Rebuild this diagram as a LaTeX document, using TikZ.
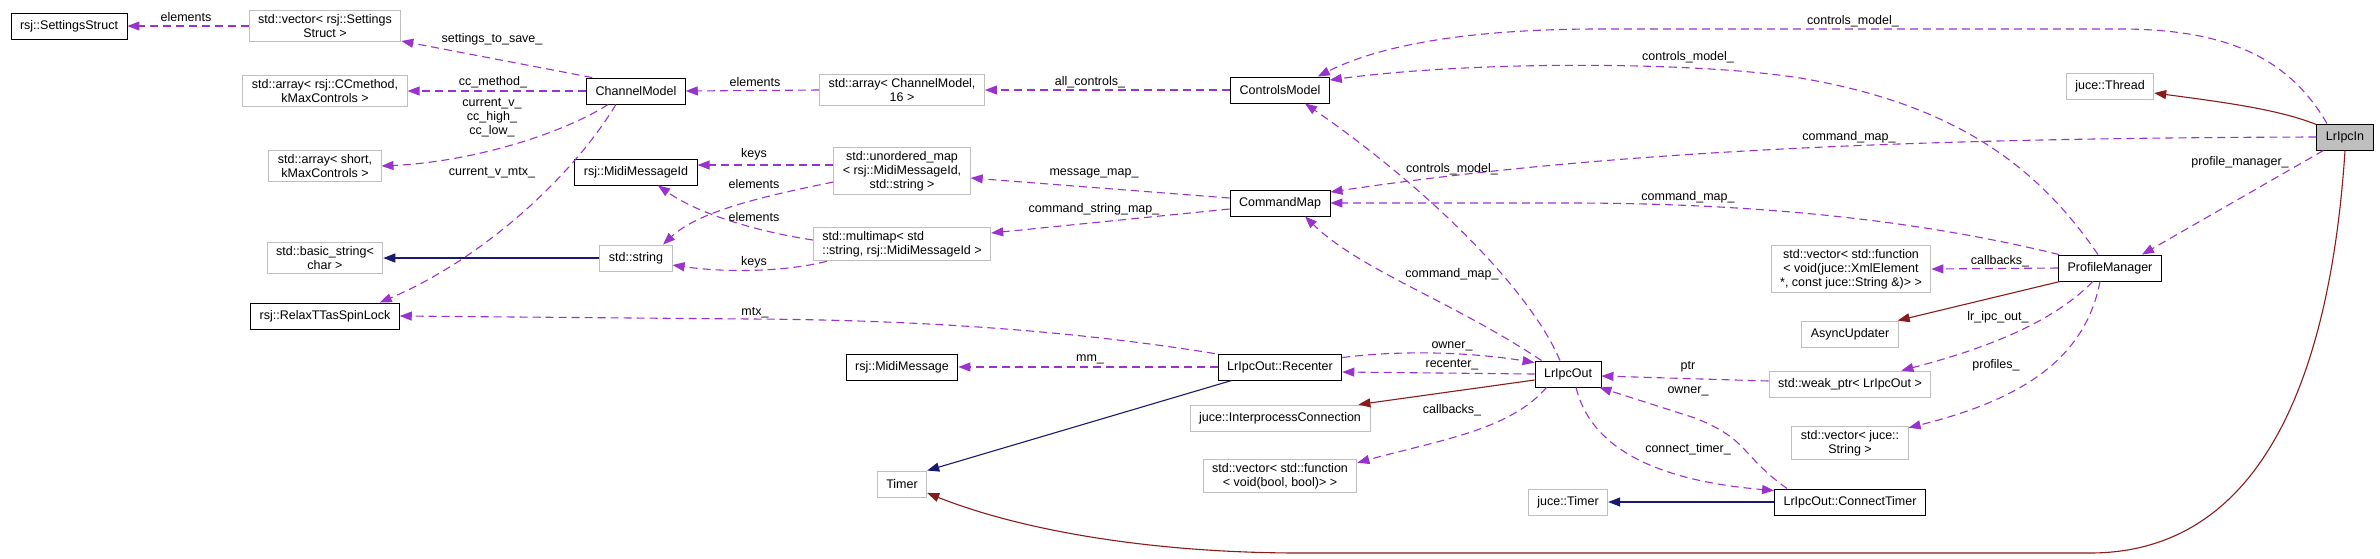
\documentclass[tikz,border=0pt]{standalone}
\usepackage{fontspec}
\setmainfont{Liberation Sans}
\definecolor{dxpurple}{RGB}{154,50,205}
\definecolor{dxnavy}  {RGB}{25,25,112}
\definecolor{dxred}   {RGB}{139,26,26}
\definecolor{dxgray}  {RGB}{191,191,191}
\usetikzlibrary{arrows.meta,calc}
\tikzset{
  cls/.style={rectangle,draw=black,line width=0.9pt,fill=white,
              minimum height=26pt,inner xsep=9pt,inner ysep=4pt,
              font=\fontsize{12.5}{14}\selectfont,align=center},
  ext/.style={cls,draw=dxgray},
  cur/.style={cls,fill=dxgray},
  mem/.style={-{Triangle[length=12pt,width=9pt]},dxpurple,line width=1.1pt,
              dash pattern=on 8pt off 5pt},
  pub/.style={-{Triangle[length=12pt,width=9pt]},dxnavy,line width=1.1pt},
  priv/.style={-{Triangle[length=12pt,width=9pt]},dxred,line width=1.1pt},
  lbl/.style={font=\fontsize{12.5}{14}\selectfont,inner sep=1pt,align=center},
}
\begin{document}
\begin{tikzpicture}[x=1pt,y=-1pt]
  \useasboundingbox (0,0) rectangle (2380,558);
  % classes
  \node[cls] (ss)   at (69,26)    {rsj::SettingsStruct};
  \node[ext] (vss)  at (325,26)   {std::vector< rsj::Settings\\Struct >};
  \node[ext] (acc)  at (325,91)   {std::array< rsj::CCmethod,\\kMaxControls >};
  \node[cls] (cm)   at (636,91)   {ChannelModel};
  \node[ext] (ash)  at (325,166)  {std::array< short,\\kMaxControls >};
  \node[cls] (mid)  at (636,172)  {rsj::MidiMessageId};
  \node[ext] (bstr) at (325,258)  {std::basic\_string<\\char >};
  \node[ext] (str)  at (636,258)  {std::string};
  \node[cls] (spin) at (325,316)  {rsj::RelaxTTasSpinLock};
  \node[ext] (ach)  at (902,90)   {std::array< ChannelModel,\\16 >};
  \node[ext] (umap) at (902,171)  {std::unordered\_map\\< rsj::MidiMessageId,\\std::string >};
  \node[ext, align=left] (mmap) at (902,244) {std::multimap< std\\::string, rsj::MidiMessageId >};
  \node[cls] (mm)   at (902,367)  {rsj::MidiMessage};
  \node[ext] (tmr)  at (902,484)  {Timer};
  \node[cls] (ctl)  at (1280,90)  {ControlsModel};
  \node[cls] (cmd)  at (1280,203) {CommandMap};
  \node[cls] (rec)  at (1280,367) {LrIpcOut::Recenter};
  \node[ext] (ipc)  at (1280,418) {juce::InterprocessConnection};
  \node[ext] (vcb)  at (1280,476) {std::vector< std::function\\< void(bool, bool)> >};
  \node[cls] (out)  at (1568,374) {LrIpcOut};
  \node[ext] (jtm)  at (1568,502) {juce::Timer};
  \node[ext] (vcx)  at (1851,269) {std::vector< std::function\\< void(juce::XmlElement\\ *, const juce::String \&)> >};
  \node[ext] (asy)  at (1850,334) {AsyncUpdater};
  \node[ext] (wp)   at (1850,384) {std::weak\_ptr< LrIpcOut >};
  \node[ext] (vjs)  at (1850,443) {std::vector< juce::\\String >};
  \node[cls] (ct)   at (1850,502) {LrIpcOut::ConnectTimer};
  \node[ext] (thr)  at (2110,86)  {juce::Thread};
  \node[cls] (pm)   at (2110,268) {ProfileManager};
  \node[cur] (lin)  at (2345,137) {LrIpcIn};

  % straight members and bases
  \foreach \a/\b in {vss/ss, cm/acc, ach/cm, ctl/ach, rec/mm, pm/vcx}
    \draw[mem] (\a.west) -- (\b.east);
  \foreach \a/\b in {str/bstr, ct/jtm}
    \draw[pub] (\a.west) -- (\b.east);

  % ChannelModel
  \draw[mem] ($(cm.north west)+(6,0)$) -- ($(vss.east)+(0,15)$);
  \draw[mem] ($(cm.south west)+(22,0)$) .. controls (560,135) and (470,162) .. (ash.east);
  \draw[mem] ($(cm.south)+(-20,0)$) .. controls (570,180) and (480,260) .. ($(spin.north east)+(-20,0)$);

  % maps
  \draw[mem] ($(umap.west)+(0,-6)$) -- ($(mid.east)+(0,-7)$);
  \draw[mem] ($(umap.west)+(0,11)$) .. controls (770,195) and (700,210) .. ($(str.north)+(27,0)$);
  \draw[mem] ($(mmap.west)+(0,-4)$) .. controls (760,232) and (700,215) .. ($(mid.south)+(22,0)$);
  \draw[mem] ($(mmap.south west)+(14,0)$) .. controls (780,273) and (720,272) .. ($(str.east)+(0,7)$);
  \draw[mem] ($(cmd.west)+(0,-5)$) -- ($(umap.east)+(0,7)$);
  \draw[mem] ($(cmd.west)+(0,6)$) -- ($(mmap.east)+(0,-11)$);

  % LrIpcIn
  \draw[mem] ($(lin.north)+(-18,0)$) .. controls (2290,60) and (2230,29) .. (2120,29)
    -- (1600,29) .. controls (1450,29) and (1370,50) .. ($(ctl.north east)+(-12,0)$);
  \draw[mem] (lin.west) .. controls (1900,138) and (1600,152) .. ($(cmd.east)+(0,-11)$);
  \draw[mem] ($(lin.south west)+(7,0)$) -- ($(pm.north)+(32,0)$);
  \draw[priv] ($(lin.north west)+(0,1)$) .. controls (2280,110) and (2230,103) .. ($(thr.east)+(0,7)$);
  \draw[priv] (lin.south) .. controls (2330,380) and (2260,553) .. (2090,553)
    -- (1300,553) .. controls (1150,553) and (1020,530) .. ($(tmr.east)+(0,9)$);

  % ProfileManager
  \draw[mem] ($(pm.north)+(-12,0)$) .. controls (2040,170) and (1960,105) .. (1800,78)
    .. controls (1700,62) and (1480,60) .. ($(ctl.east)+(0,-10)$);
  \draw[mem] ($(pm.north west)+(1,0)$) .. controls (1950,228) and (1800,204) .. (1580,203) -- (cmd.east);
  \draw[priv] ($(pm.south west)+(2,0)$) -- ($(asy.north east)+(-1,0)$);
  \draw[mem] ($(pm.south)+(-17,0)$) .. controls (2050,325) and (1980,350) .. ($(wp.north east)+(-30,0)$);
  \draw[mem] ($(pm.south)+(-10,0)$) .. controls (2085,360) and (2020,400) .. ($(vjs.north east)+(0,2)$);

  % LrIpcOut
  \draw[mem] ($(out.north)+(-8,0)$) .. controls (1530,290) and (1430,190) .. ($(ctl.south)+(25,0)$);
  \draw[mem] ($(out.north west)+(7,0)$) .. controls (1450,300) and (1360,270) .. ($(cmd.south)+(25,0)$);
  \draw[mem] ($(wp.west)+(0,-3)$) -- ($(out.east)+(0,2)$);
  \draw[mem] ($(ct.north west)+(13,0)$) .. controls (1740,455) and (1750,440) .. (1695,418)
    -- ($(out.south east)+(-2,0)$);
  \draw[mem] ($(out.south)+(8,0)$) .. controls (1590,445) and (1650,480) .. ($(ct.north west)+(0,2)$);
  \draw[mem] ($(rec.north east)+(0,4)$) .. controls (1400,350) and (1470,352) .. ($(out.north west)+(0,2)$);
  \draw[mem] (out.west) -- ($(rec.east)+(0,5)$);
  \draw[priv] ($(out.west)+(0,6)$) -- ($(ipc.north east)+(-12,0)$);
  \draw[mem] ($(out.south west)+(12,0)$) .. controls (1510,430) and (1440,440) .. ($(vcb.north east)+(0,4)$);

  % Recenter
  \draw[mem] ($(rec.north west)+(-3,0)$) .. controls (1100,335) and (950,320) .. (750,319) -- (spin.east);
  \draw[pub] ($(rec.south west)+(14,0)$) -- (tmr.north east);

  % edge labels
  \foreach \lx/\ly/\lt [count=\i] in {
      186/17/elements, 492/39/settings\_to\_save\_, 493/82/cc\_method\_,
      492/118/{current\_v\_\\cc\_high\_\\cc\_low\_}, 492/173/current\_v\_mtx\_,
      755/82/elements, 754/154/keys, 754/184/elements, 754/217/elements,
      754/262/keys, 755/313/mtx\_, 1090/82/all\_controls\_,
      1094/173/message\_map\_, 1094/209/command\_string\_map\_, 1090/359/mm\_,
      1452/169/controls\_model\_, 1452/274/command\_map\_, 1452/346/owner\_,
      1452/365/recenter\_, 1452/410/callbacks\_, 1853/21/controls\_model\_,
      1688/57/controls\_model\_, 1849/137/command\_map\_, 1688/197/command\_map\_,
      2240/162/profile\_manager\_, 2000/261/callbacks\_, 1998/317/lr\_ipc\_out\_,
      1996/365/profiles\_, 1688/367/ptr, 1688/391/owner\_, 1688/449/connect\_timer\_}
    \node[lbl] (lab\i) at (\lx,\ly) {\lt};
\end{tikzpicture}
\end{document}
